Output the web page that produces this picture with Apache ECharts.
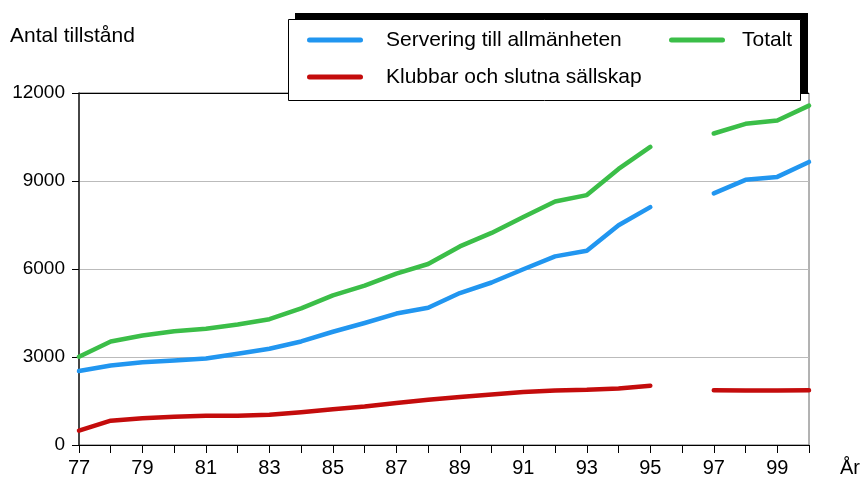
<!DOCTYPE html>
<html>
<head>
<meta charset="utf-8">
<script src="https://cdn.jsdelivr.net/npm/echarts@6/dist/echarts.min.js"></script>
<style>
  html, body { margin: 0; padding: 0; background: #fff; }
  #chart { width: 864px; height: 478px; }
</style>
</head>
<body>
<div id="chart"></div>
<script>
// år 1977-2000, 1996 saknas
const years = [77, 78, 79, 80, 81, 82, 83, 84, 85, 86, 87, 88, 89, 90, 91, 92, 93, 94, 95, 96, 97, 98, 99, 100]
const servering = [2520, 2710, 2820, 2880, 2950, 3110, 3280, 3530, 3860, 4160, 4480, 4680, 5180, 5540, 5990, 6430, 6620, 7490, 8110, null, 8580, 9040, 9140, 9650]
const klubbar = [490, 830, 910, 965, 995, 1000, 1030, 1120, 1220, 1310, 1430, 1540, 1640, 1720, 1810, 1860, 1880, 1930, 2020, null, 1870, 1860, 1860, 1870]
const totalt = [3010, 3530, 3730, 3880, 3960, 4110, 4290, 4660, 5100, 5430, 5840, 6170, 6770, 7230, 7770, 8300, 8520, 9410, 10160, null, 10620, 10950, 11060, 11570]

const names = ['Servering till allmänheten', 'Totalt', 'Klubbar och slutna sällskap']
const colors = ['#2196F0', '#3BBE48', '#C40C0C']
const font = 'Liberation Sans, Arial, sans-serif'

function pairs(arr) {
    return years.map(function (y, i) { return [y, arr[i]] })
}

function line(name, arr, color) {
    return {
        name: name,
        type: 'line',
        data: pairs(arr),
        symbol: 'none',
        connectNulls: false,
        color: color,
        lineStyle: { width: 4.5, color: color, cap: 'round', join: 'round' },
        z: 3
    }
}

const capsule = 'path://M2.5,0 L53.5,0 A2.5,2.5 0 0 1 53.5,5 L2.5,5 A2.5,2.5 0 0 1 2.5,0 Z'

function legend(name, left, top, gap) {
    return {
        data: [name],
        left: left,
        top: top,
        padding: 0,
        icon: capsule,
        itemWidth: 56,
        itemHeight: 5,
        selectedMode: false,
        z: 20,
        textStyle: { fontFamily: font, fontSize: 21, color: '#000', padding: [0, 0, 0, gap], lineHeight: 22 }
    }
}

const dom = document.getElementById('chart')
const myChart = echarts.init(dom, null, { renderer: 'canvas' })

const option = {
    animation: false,
    backgroundColor: '#fff',
    title: {
        text: 'Antal tillstånd',
        left: 10,
        top: 26,
        padding: 0,
        textStyle: { fontFamily: font, fontSize: 21, fontWeight: 'normal', color: '#000' }
    },
    legend: [
        legend(names[0], 307, 29, 18),
        legend(names[1], 669, 29, 12),
        legend(names[2], 307, 66, 18)
    ],
    graphic: [
        {
            type: 'rect', z: 10,
            shape: { x: 295, y: 13, width: 513, height: 80 },
            style: { fill: '#000' }
        },
        {
            type: 'rect', z: 11,
            shape: { x: 288.5, y: 19.5, width: 512, height: 81 },
            style: { fill: '#fff', stroke: '#000', lineWidth: 1 }
        }
    ],
    grid: {
        left: 79, right: 55, top: 93, bottom: 33,
        show: true, borderColor: '#666', borderWidth: 1
    },
    xAxis: {
        type: 'value',
        min: 77, max: 100, interval: 1,
        name: 'År',
        nameLocation: 'end',
        nameGap: 31,
        nameTextStyle: { fontFamily: font, fontSize: 20, color: '#000', verticalAlign: 'top', padding: [13, 0, 0, 0] },
        axisLine: { lineStyle: { color: '#000', width: 1 } },
        axisTick: { length: 8, lineStyle: { color: '#000' } },
        axisLabel: {
            margin: 13,
            fontFamily: font, fontSize: 20, color: '#000',
            formatter: function (v) { return (v % 2 === 1 && v < 100) ? String(v) : '' }
        },
        splitLine: { show: false }
    },
    yAxis: {
        type: 'value',
        min: 0, max: 12000, interval: 3000,
        axisLine: { show: true, lineStyle: { color: '#222', width: 1.5 } },
        axisTick: { show: true, length: 7, lineStyle: { color: '#000' } },
        axisLabel: {
            margin: 14, fontFamily: font, fontSize: 19, color: '#000',
            formatter: function (v) { return String(v) }
        },
        splitLine: { show: true, lineStyle: { color: ['#000', '#bbb', '#bbb', '#bbb', '#000'], width: 1 } }
    },
    series: [
        line(names[0], servering, colors[0]),
        line(names[1], totalt, colors[1]),
        line(names[2], klubbar, colors[2])
    ]
}
myChart.setOption(option)
</script>
</body>
</html>
